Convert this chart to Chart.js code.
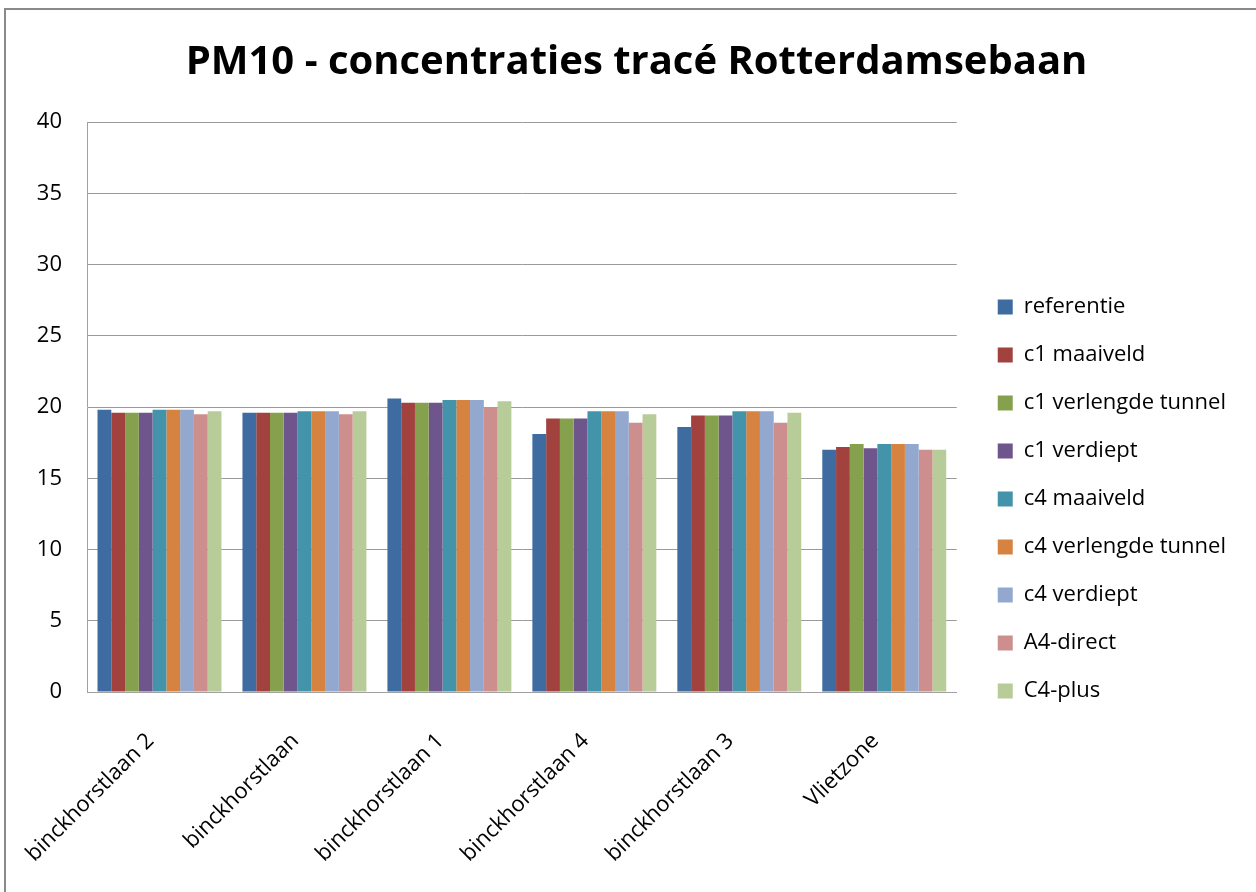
<!DOCTYPE html>
<html>
<head>
<meta charset="utf-8">
<script src="https://cdn.jsdelivr.net/npm/chart.js@4.4.1/dist/chart.umd.min.js"></script>
<style>
  html, body { margin: 0; padding: 0; background: #fff; }
  #wrap { position: relative; width: 1256px; height: 892px; }
  #frame { position: absolute; left: 4px; top: 8px; right: 0; bottom: 0;
           border-top: 2px solid #8a8a8a; border-left: 2px solid #8a8a8a; }
  canvas { position: absolute; left: 0; top: 0; }
</style>
</head>
<body>
<div id="wrap">
  <div id="frame"></div>
  <canvas id="pm10" width="1256" height="892"></canvas>
</div>
<script>
const locaties = ["binckhorstlaan 2", "binckhorstlaan", "binckhorstlaan 1", "binckhorstlaan 4", "binckhorstlaan 3", "Vlietzone"];

const referentie = [19.8, 19.6, 20.6, 18.1, 18.6, 17.0];
const c1Maaiveld = [19.6, 19.6, 20.3, 19.2, 19.4, 17.2];
const c1Tunnel = [19.6, 19.6, 20.3, 19.2, 19.4, 17.4];
const c1Verdiept = [19.6, 19.6, 20.3, 19.2, 19.4, 17.1];
const c4Maaiveld = [19.8, 19.7, 20.5, 19.7, 19.7, 17.4];
const c4Tunnel = [19.8, 19.7, 20.5, 19.7, 19.7, 17.4];
const c4Verdiept = [19.8, 19.7, 20.5, 19.7, 19.7, 17.4];
const a4Direct = [19.5, 19.5, 20.0, 18.9, 18.9, 17.0];
const c4Plus = [19.7, 19.7, 20.4, 19.5, 19.6, 17.0];

const yTicks = [0, 5, 10, 15, 20, 25, 30, 35, 40];

const font = "Open Sans";

function serie(label, data, kleur) {
  return {
    label: label,
    data: data,
    backgroundColor: kleur,
    borderColor: kleur,
    borderWidth: 0,
    barPercentage: 1,
    categoryPercentage: 0.855,
  };
}

// titel en legenda staan in Excel los van het plotgebied
const verschuif = {
  id: "verschuif",
  afterLayout(chart) {
    const l = chart.legend;
    l.left += 15;
    l.right += 15;
    l.top += 43;
    l.bottom += 43;
    const t = chart.titleBlock;
    t.left += 26;
    t.right += 26;
    t.top += 1;
    t.bottom += 1;
  },
};

new Chart(document.getElementById("pm10"), {
  type: "bar",
  data: {
    labels: locaties,
    datasets: [
      serie("referentie", referentie, "rgb(62, 108, 160)"),
      serie("c1 maaiveld", c1Maaiveld, "rgb(161, 66, 63)"),
      serie("c1 verlengde tunnel", c1Tunnel, "rgb(134, 161, 77)"),
      serie("c1 verdiept", c1Verdiept, "rgb(110, 85, 140)"),
      serie("c4 maaiveld", c4Maaiveld, "rgb(67, 148, 170)"),
      serie("c4 verlengde tunnel", c4Tunnel, "rgb(214, 130, 64)"),
      serie("c4 verdiept", c4Verdiept, "rgb(146, 168, 206)"),
      serie("A4-direct", a4Direct, "rgb(204, 143, 142)"),
      serie("C4-plus", c4Plus, "rgb(183, 204, 152)"),
    ],
  },
  options: {
    responsive: false,
    animation: false,
    layout: {
      padding: { top: 20, right: 35, bottom: 0, left: 0 },
    },
    plugins: {
      title: {
        display: true,
        text: "PM10 - concentraties tracé Rotterdamsebaan",
        color: "#000",
        font: { family: font, weight: "bold", size: 40 },
        padding: { top: 18, bottom: 36 },
      },
      legend: {
        position: "right",
        align: "center",
        labels: {
          color: "#000",
          font: { family: font, size: 22 },
          boxWidth: 15,
          boxHeight: 15,
          padding: 26,
        },
      },
      tooltip: { enabled: false },
    },
    scales: {
      x: {
        grid: { display: false, drawTicks: false },
        border: { display: true, color: "#a0a0a0", width: 1 },
        ticks: {
          color: "#000",
          font: { family: font, size: 22 },
          minRotation: 45,
          maxRotation: 45,
          padding: 36,
          labelOffset: -9,
        },
        afterFit: (s) => {
          s.height = 200;
          s.paddingLeft = 0;
          s.paddingRight = 0;
        },
      },
      y: {
        min: 0,
        max: 40,
        afterBuildTicks: (s) => { s.ticks = yTicks.map((v) => ({ value: v })); },
        grid: { color: "#9a9a9a", lineWidth: 1, drawTicks: false },
        border: { display: true, color: "#a0a0a0", width: 1 },
        ticks: {
          color: "#000",
          font: { family: font, size: 22 },
          padding: 25,
        },
        afterFit: (s) => { s.width = 87; },
      },
    },
  },
  plugins: [verschuif],
});
</script>
</body>
</html>
